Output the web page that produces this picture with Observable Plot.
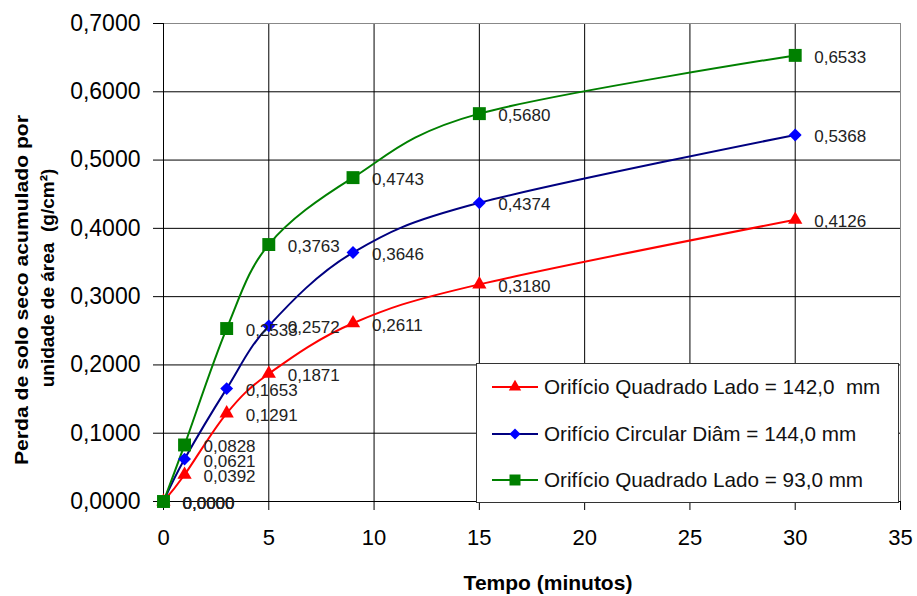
<!DOCTYPE html>
<html>
<head>
<meta charset="utf-8">
<script src="https://cdn.jsdelivr.net/npm/d3@7"></script>
<script src="https://cdn.jsdelivr.net/npm/@observablehq/plot@0.6"></script>
<style>
  html, body { margin: 0; padding: 0; background: #fff; }
  #chart { position: relative; width: 917px; height: 596px; font-family: 'Liberation Sans', Arial, sans-serif; }
  #legend { position: absolute; left: 476px; top: 363px; width: 421px; height: 138px; background: #fff; border: 1px solid #333; }
  .leg-item { position: absolute; left: 15px; height: 24px; display: flex; align-items: center; white-space: pre; font-size: 20.7px; color: #111; }
  .leg-item svg { margin-right: 6px; }
</style>
</head>
<body>
<div id="chart"></div>
<script>
// ---- Data ----
const tempo = [0, 1, 3, 5, 9, 15, 30];
const seriesNames = [
  "Orifício Quadrado Lado = 142,0  mm",
  "Orifício Circular Diâm = 144,0 mm",
  "Orifício Quadrado Lado = 93,0 mm"
];
const quadrado142 = [0.0000, 0.0392, 0.1291, 0.1871, 0.2611, 0.3180, 0.4126];
const circular144 = [0.0000, 0.0621, 0.1653, 0.2572, 0.3646, 0.4374, 0.5368];
const quadrado93  = [0.0000, 0.0828, 0.2533, 0.3763, 0.4743, 0.5680, 0.6533];
const xTicks = [0, 5, 10, 15, 20, 25, 30, 35];
const yTicks = [0, 0.1, 0.2, 0.3, 0.4, 0.5, 0.6, 0.7];
const xTitle = "Tempo (minutos)";
const yTitle1 = "Perda de solo seco acumulado por";
const yTitle2 = "unidade de área  (g/cm²)";

// ---- Styles ----
const lineColors = ["#ff0000", "#000080", "#008000"];
const markColors = ["#ff0000", "#0000ff", "#008000"];
const symbols = ["triangle", "diamond2", "square"];
const radii = [5.3, 5.8, 7.3];

const allValues = [quadrado142, circular144, quadrado93];
const rows = [];
allValues.forEach((vals, si) => {
  vals.forEach((v, i) => rows.push({series: seriesNames[si], s: si, t: tempo[i], v}));
});
const fmt = v => d3.format(".4f")(v).replace(".", ",");

const marks = [
  Plot.gridX(xTicks.slice(1, -1), {stroke: "#000", strokeOpacity: 1, strokeWidth: 1}),
  Plot.gridY(yTicks.slice(1, -1), {stroke: "#000", strokeOpacity: 1, strokeWidth: 1}),
  Plot.ruleY([0.7], {stroke: "#888", strokeWidth: 1}),
  Plot.ruleX([35], {stroke: "#888", strokeWidth: 1}),
  Plot.ruleX([0], {stroke: "#000", strokeWidth: 1}),
  Plot.ruleY([0], {stroke: "#000", strokeWidth: 1}),
  Plot.axisX({ticks: xTicks, tickSize: 9, tickPadding: 19, fontSize: 22, label: null, tickFormat: d => String(d)}),
  Plot.axisY({ticks: yTicks, tickSize: 10, tickPadding: 13, fontSize: 23, label: null, tickFormat: fmt})
];
[0, 1, 2].forEach(si => {
  const data = rows.filter(d => d.s === si);
  marks.push(Plot.line(data, {x: "t", y: "v", stroke: lineColors[si], strokeWidth: 2, curve: "cardinal"}));
});
[0, 1, 2].forEach(si => {
  const data = rows.filter(d => d.s === si);
  marks.push(Plot.dot(data, {x: "t", y: "v", symbol: symbols[si], r: radii[si], fill: markColors[si], stroke: "none"}));
});
[0, 1, 2].forEach(si => {
  const data = rows.filter(d => d.s === si);
  marks.push(Plot.text(data, {x: "t", y: "v", text: d => fmt(d.v), textAnchor: "start", dx: 19, dy: 2, fontSize: 17, fill: "#222"}));
});

const plot = Plot.plot({
  width: 917,
  height: 596,
  marginLeft: 163,
  marginRight: 17,
  marginTop: 23,
  marginBottom: 95,
  style: {fontFamily: "'Liberation Sans', Arial, sans-serif", background: "#fff", color: "#000"},
  x: {domain: [0, 35]},
  y: {domain: [0, 0.7]},
  marks
});
const chart = document.getElementById("chart");
chart.appendChild(plot);

// ---- Titles ----
const svg = d3.select(plot);
const ff = "'Liberation Sans', Arial, sans-serif";
svg.append("text")
  .attr("x", 548).attr("y", 590)
  .attr("text-anchor", "middle").attr("font-family", ff)
  .attr("font-size", 21).attr("font-weight", "bold").attr("fill", "#000")
  .text(xTitle);
svg.append("text")
  .attr("transform", "translate(28,290) rotate(-90)")
  .attr("text-anchor", "middle").attr("font-family", ff)
  .attr("font-size", 19).attr("font-weight", "bold").attr("fill", "#000")
  .attr("textLength", 350).attr("lengthAdjust", "spacingAndGlyphs")
  .text(yTitle1);
svg.append("text")
  .attr("transform", "translate(54,278) rotate(-90)")
  .attr("text-anchor", "middle").attr("font-family", ff)
  .attr("font-size", 19).attr("font-weight", "bold").attr("fill", "#000")
  .text(yTitle2);

// ---- Legend (HTML overlay) ----
const legend = document.createElement("div");
legend.id = "legend";
chart.appendChild(legend);
const legTop = [11, 58, 104];
const legSym = [d3.symbolTriangle, d3.symbolDiamond2, d3.symbolSquare];
const legR = [4.6, 5, 6.2];
seriesNames.forEach((name, i) => {
  const item = d3.select(legend).append("div").attr("class", "leg-item").style("top", legTop[i] + "px");
  const s = item.append("svg").attr("width", 46).attr("height", 24);
  s.append("line").attr("x1", 0).attr("x2", 46).attr("y1", 12).attr("y2", 12)
    .attr("stroke", lineColors[i]).attr("stroke-width", 2);
  s.append("path").attr("d", d3.symbol(legSym[i], Math.PI * legR[i] * legR[i])())
    .attr("transform", "translate(23,12)").attr("fill", markColors[i]);
  item.append("span").text(name);
});
</script>
</body>
</html>
